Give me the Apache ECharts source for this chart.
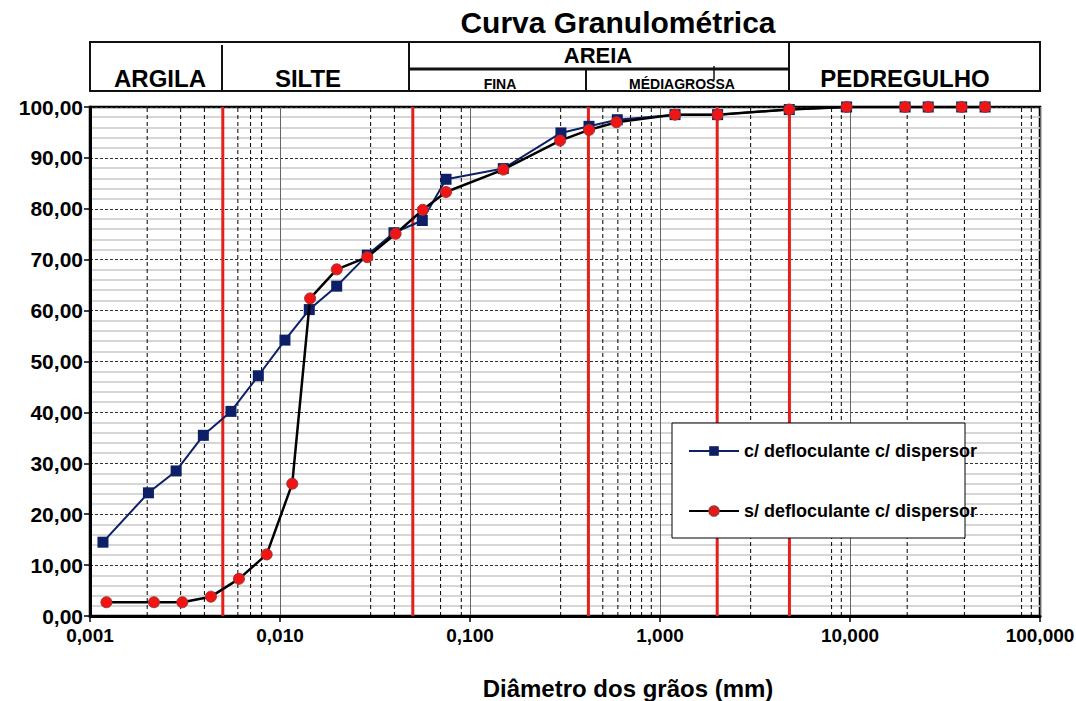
<!DOCTYPE html>
<html>
<head>
<meta charset="utf-8">
<script src="https://cdn.jsdelivr.net/npm/echarts@6/dist/echarts.min.js"></script>
<style>html,body{margin:0;padding:0;background:#fff}#c{width:1076px;height:701px}</style>
</head>
<body>
<div id="c"></div>
<script>
// ---- data ----
const seriesNames = ['c/ defloculante c/ dispersor', 's/ defloculante c/ dispersor'];
const diamBlue = [0.00117, 0.00203, 0.00284, 0.00395, 0.00552, 0.00769, 0.01062, 0.01426, 0.01988, 0.0288, 0.0398, 0.0561, 0.0748, 0.1497, 0.301, 0.423, 0.596, 1.2, 2.01, 4.79, 9.6, 19.5, 25.8, 38.7, 51.4];
const passBlue = [14.5, 24.2, 28.5, 35.5, 40.2, 47.2, 54.2, 60.2, 64.8, 70.9, 75.3, 77.7, 85.8, 87.9, 94.9, 96.2, 97.5, 98.5, 98.5, 99.5, 100, 100, 100, 100, 100];
const diamRed = [0.00122, 0.00217, 0.00306, 0.00433, 0.00608, 0.00851, 0.0116, 0.0144, 0.0199, 0.0288, 0.0406, 0.0564, 0.0748, 0.1497, 0.298, 0.423, 0.59, 1.2, 2.01, 4.79, 9.6, 19.5, 25.8, 38.7, 51.4];
const passRed = [2.7, 2.7, 2.7, 3.8, 7.3, 12.1, 26.0, 62.4, 68.1, 70.5, 75.1, 79.8, 83.3, 87.7, 93.4, 95.5, 97.0, 98.5, 98.5, 99.5, 100, 100, 100, 100, 100];
// class boundaries (red lines) and extra dashed grid lines, in mm
const boundaryX = [0.005, 0.05, 0.42, 2.0, 4.8];
const minorGridX = [0.002, 0.003, 0.004, 0.006, 0.007, 0.008, 0.03, 0.04, 0.07, 0.09, 0.3, 0.5, 0.6, 0.7, 0.8, 0.9, 3, 8, 9, 20, 40, 80, 90];
const yRange = [0, 100];
const titleText = 'Curva Granulométrica';
const classLabels = ['ARGILA', 'SILTE', 'AREIA', 'FINA', 'MÉDIAGROSSA', 'PEDREGULHO'];
const xAxisTitle = 'Diâmetro dos grãos (mm)';

const FF = '"Liberation Sans", Arial, Helvetica, sans-serif';
const chart = echarts.init(document.getElementById('c'), null, {renderer: 'svg'});

function txt(text, x, y, size) {
  return {type: 'text', z: 70, style: {text: text, x: x, y: y, font: 'bold ' + size + 'px ' + FF, textAlign: 'center', textVerticalAlign: 'middle', fill: '#000'}};
}
function ln(x1, y1, x2, y2, w) {
  return {type: 'line', z: 70, shape: {x1: x1, y1: y1, x2: x2, y2: y2}, style: {stroke: '#111', lineWidth: w}};
}
function vLine(v, color, width, type, z) {
  return {type: 'line', name: 'v' + v, data: [[v, yRange[0]], [v, yRange[1]]], symbol: 'none', silent: true, z: z,
    lineStyle: {color: color, width: width, type: type}, emphasis: {disabled: true}, tooltip: {show: false}};
}

const series = [];
minorGridX.forEach(function (v) { series.push(vLine(v, '#000', 1, [4, 3], 1)); });
boundaryX.forEach(function (v) { series.push(vLine(v, '#e3201b', 3, 'solid', 2)); });
series.push({type: 'line', name: seriesNames[0], z: 5, symbol: 'rect', symbolSize: 11,
  data: diamBlue.map(function (d, i) { return [d, passBlue[i]]; }),
  lineStyle: {color: '#0d1f66', width: 2}, itemStyle: {color: '#0d1f66'}});
series.push({type: 'line', name: seriesNames[1], z: 6, symbol: 'circle', symbolSize: 11,
  data: diamRed.map(function (d, i) { return [d, passRed[i]]; }),
  lineStyle: {color: '#000', width: 2.5}, itemStyle: {color: '#f01414', borderColor: '#a83232', borderWidth: 1}});

const option = {
  animation: false,
  backgroundColor: '#fff',
  grid: {left: 90, right: 36, top: 107, bottom: 85, show: true, borderColor: '#000', borderWidth: 2.5, backgroundColor: '#fff', containLabel: false, outerBoundsMode: 'none'},
  xAxis: {
    type: 'log', logBase: 10, min: 0.001, max: 100,
    axisLine: {show: true, onZero: false, lineStyle: {color: '#000', width: 3}},
    axisTick: {show: true, length: 6, lineStyle: {color: '#000', width: 1.5}},
    axisLabel: {formatter: function (v) { return Number(v).toFixed(3).replace('.', ','); }, color: '#000', fontSize: 19, fontWeight: 'bold', fontFamily: FF, margin: 10},
    splitLine: {show: true, lineStyle: {color: '#666', width: 1}},
    minorTick: {show: false}, minorSplitLine: {show: false}
  },
  yAxis: {
    type: 'value', min: yRange[0], max: yRange[1], interval: 10,
    axisLine: {show: true, lineStyle: {color: '#000', width: 3}},
    axisTick: {show: true, length: 6, lineStyle: {color: '#000', width: 1.5}},
    axisLabel: {formatter: function (v) { return Number(v).toFixed(2).replace('.', ','); }, color: '#000', fontSize: 21, fontWeight: 'bold', fontFamily: FF, margin: 7},
    splitLine: {show: true, lineStyle: {color: '#333', type: [3, 2], width: 1}},
    minorTick: {show: false, splitNumber: 5},
    minorSplitLine: {show: true, lineStyle: {color: '#c8c8c8', width: 1.5}}
  },
  legend: {
    data: seriesNames, orient: 'vertical', left: 683, top: 437, itemWidth: 50, itemHeight: 12, itemGap: 42,
    selectedMode: false, z: 60,
    textStyle: {fontSize: 18, fontWeight: 'bold', fontFamily: FF, color: '#000'}
  },
  series: series,
  graphic: {elements: [
    {type: 'rect', z: 50, shape: {x: 672, y: 423, width: 293, height: 115}, style: {fill: '#fff', stroke: '#000', lineWidth: 1}},
    {type: 'rect', z: 70, shape: {x: 90, y: 42, width: 950, height: 49}, style: {fill: 'none', stroke: '#111', lineWidth: 2}},
    ln(222, 45, 222, 91, 2),
    ln(409, 42, 409, 91, 2),
    ln(409, 69, 789, 69, 3),
    ln(586, 69, 586, 91, 2),
    ln(714, 66, 714, 80, 1.5),
    ln(789, 42, 789, 91, 2),
    txt(titleText, 618, 22, 30),
    txt(classLabels[0], 160, 78, 24),
    txt(classLabels[1], 308, 78, 24),
    txt(classLabels[2], 598, 55, 22),
    txt(classLabels[3], 500, 84, 14),
    txt(classLabels[4], 682, 84, 14),
    txt(classLabels[5], 905, 78, 24),
    txt(xAxisTitle, 628, 688, 24)
  ]}
};
chart.setOption(option);
</script>
</body>
</html>
